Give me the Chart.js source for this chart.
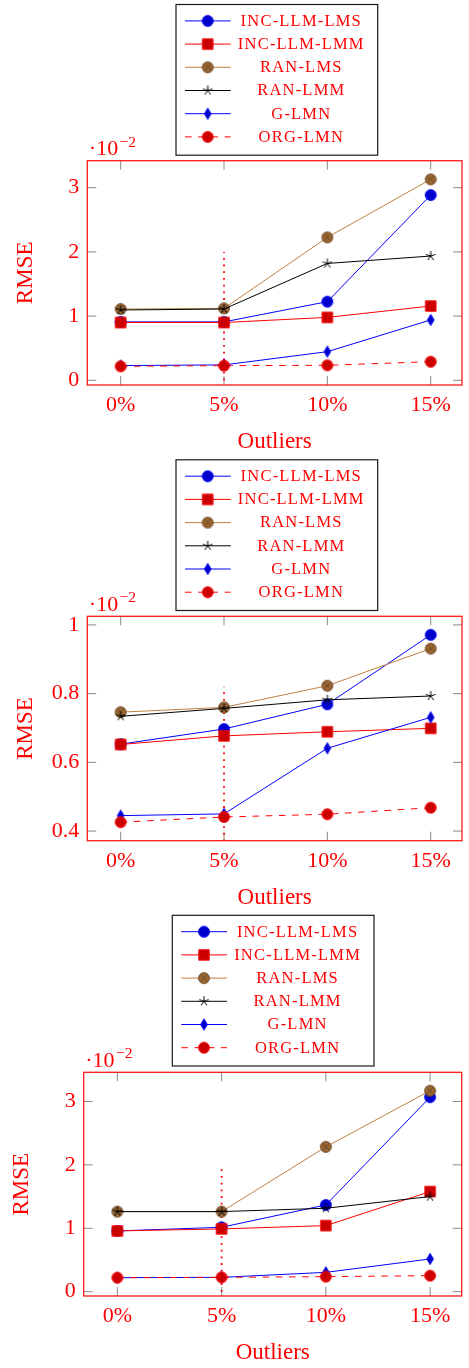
<!DOCTYPE html>
<html>
<head>
<meta charset="utf-8">
<script src="https://cdn.jsdelivr.net/npm/chart.js@4.4.1/dist/chart.umd.min.js"></script>
<style>
html, body { margin: 0; padding: 0; background: #fff; }
canvas { position: absolute; left: 0; }
</style>
</head>
<body>
<canvas id="c1" width="469" height="455" style="top:0"></canvas>
<canvas id="c2" width="469" height="455" style="top:455px"></canvas>
<canvas id="c3" width="469" height="458" style="top:910px"></canvas>
<script>
// categories / names
var categories = ['0%', '5%', '10%', '15%'];
var seriesNames = ['INC-LLM-LMS', 'INC-LLM-LMM', 'RAN-LMS', 'RAN-LMM', 'G-LMN', 'ORG-LMN'];

// chart 1 (values x 10^-2)
var incLms1 = [0.91, 0.91, 1.225, 2.885];
var incLmm1 = [0.90, 0.90, 0.98, 1.157];
var ranLms1 = [1.11, 1.12, 2.226, 3.13];
var ranLmm1 = [1.095, 1.11, 1.82, 1.935];
var gLmn1 = [0.23, 0.24, 0.446, 0.94];
var orgLmn1 = [0.218, 0.228, 0.234, 0.29];
var yTicks1 = [0, 1, 2, 3];
var mark1 = [0, 2];

// chart 2
var incLms2 = [0.653, 0.697, 0.769, 0.971];
var incLmm2 = [0.652, 0.677, 0.689, 0.699];
var ranLms2 = [0.746, 0.76, 0.823, 0.931];
var ranLmm2 = [0.734, 0.757, 0.782, 0.793];
var gLmn2 = [0.445, 0.45, 0.641, 0.731];
var orgLmn2 = [0.426, 0.441, 0.449, 0.468];
var yTicks2 = [0.4, 0.6, 0.8, 1];
var mark2 = [0.37, 0.82];

// chart 3
var incLms3 = [0.958, 1.016, 1.368, 3.068];
var incLmm3 = [0.958, 0.99, 1.042, 1.579];
var ranLms3 = [1.263, 1.263, 2.284, 3.17];
var ranLmm3 = [1.263, 1.263, 1.316, 1.5];
var gLmn3 = [0.221, 0.226, 0.305, 0.516];
var orgLmn3 = [0.221, 0.226, 0.237, 0.253];
var yTicks3 = [0, 1, 2, 3];
var mark3 = [0, 1.95];

var SERIF = '"Liberation Serif", "Times New Roman", serif';

// marker images (pgfplots look)
function markerImage(kind, fill, edge) {
    var c = document.createElement('canvas');
    c.width = 16; c.height = 16;
    var g = c.getContext('2d');
    g.translate(8, 8);
    g.fillStyle = fill; g.strokeStyle = edge; g.lineWidth = 0.8;
    g.beginPath();
    if (kind === 'circle') {
        g.arc(0, 0, 5.5, 0, 2 * Math.PI);
        g.fill(); g.stroke();
    } else if (kind === 'square') {
        g.rect(-5.3, -5.3, 10.6, 10.6);
        g.fill(); g.stroke();
    } else if (kind === 'diamond') {
        g.moveTo(0, -5.7); g.lineTo(3.4, 0); g.lineTo(0, 5.7); g.lineTo(-3.4, 0); g.closePath();
        g.fill(); g.stroke();
    } else if (kind === 'otimes') {
        g.arc(0, 0, 5.5, 0, 2 * Math.PI);
        g.fill(); g.stroke();
        g.beginPath();
        g.moveTo(-3.9, -3.9); g.lineTo(3.9, 3.9);
        g.moveTo(-3.9, 3.9); g.lineTo(3.9, -3.9);
        g.stroke();
    } else if (kind === 'star') {
        g.lineWidth = 1;
        for (var k = 0; k < 5; k++) {
            var ang = -Math.PI / 2 + k * 2 * Math.PI / 5;
            g.moveTo(0, 0); g.lineTo(5 * Math.cos(ang), 5 * Math.sin(ang));
        }
        g.stroke();
    }
    return c;
}

var styles = [
    { line: '#0000ff', img: markerImage('circle', '#0000cc', '#0000ff') },
    { line: '#ff0000', img: markerImage('square', '#cc0000', '#ff0000') },
    { line: 'rgb(191,128,64)', img: markerImage('otimes', 'rgb(153,102,51)', 'rgb(105,68,34)') },
    { line: '#000000', img: markerImage('star', '#000', '#000') },
    { line: '#0000ff', img: markerImage('diamond', '#0000cc', '#0000ff') },
    { line: '#ff0000', img: markerImage('circle', '#cc0000', '#ff0000'), dash: [6.6, 6.6] }
];

var framePlugin = {
    id: 'frame',
    beforeDatasetsDraw: function (chart) {
        var a = chart.chartArea, ctx = chart.ctx;
        var xs = chart.scales.x, ys = chart.scales.y, tl = 9;
        ctx.save();
        ctx.strokeStyle = '#8a8a8a';
        ctx.lineWidth = 1;
        ctx.beginPath();
        xs.ticks.forEach(function (t) {
            var px = xs.getPixelForValue(t.value);
            ctx.moveTo(px, a.top); ctx.lineTo(px, a.top + tl);
            ctx.moveTo(px, a.bottom); ctx.lineTo(px, a.bottom - tl);
        });
        ys.ticks.forEach(function (t) {
            var py = ys.getPixelForValue(t.value);
            ctx.moveTo(a.left, py); ctx.lineTo(a.left + tl, py);
            ctx.moveTo(a.right, py); ctx.lineTo(a.right - tl, py);
        });
        ctx.stroke();
        ctx.restore();
    },
    afterDraw: function (chart, args, opts) {
        var a = chart.chartArea, ctx = chart.ctx;
        ctx.save();
        // axis box
        ctx.strokeStyle = 'rgba(255,0,0,0.9)';
        ctx.lineWidth = 1.3;
        ctx.strokeRect(a.left, a.top, a.right - a.left, a.bottom - a.top);

        // exponent
        ctx.fillStyle = '#ff0000';
        ctx.textAlign = 'left';
        ctx.textBaseline = 'alphabetic';
        ctx.font = '22px ' + SERIF;
        var base = a.top - 5.7, x0 = a.left + 1.5;
        ctx.fillText('\u00b710', x0, base);
        var w = ctx.measureText('\u00b710').width;
        ctx.font = '15.5px ' + SERIF;
        ctx.fillText('\u22122', x0 + w + 1.5, base - 8.3);

        // legend
        var bx = 176 + opts.dx, by = 4.5 + opts.dy, bw = 201.7, bh = 150.7;
        ctx.fillStyle = '#fff';
        ctx.fillRect(bx, by, bw, bh);
        ctx.strokeStyle = '#1a1a1a';
        ctx.lineWidth = 1.2;
        ctx.strokeRect(bx, by, bw, bh);
        ctx.font = '16.5px ' + SERIF;
        ctx.textAlign = 'center';
        ctx.textBaseline = 'middle';
        for (var i = 0; i < seriesNames.length; i++) {
            var st = styles[i];
            var ry = by + 16.4 + i * 23.2;
            ctx.strokeStyle = st.line;
            ctx.lineWidth = 1;
            ctx.setLineDash(st.dash || []);
            ctx.beginPath();
            ctx.moveTo(bx + 9, ry); ctx.lineTo(bx + 54.7, ry);
            ctx.stroke();
            ctx.setLineDash([]);
            ctx.drawImage(st.img, bx + 31.7 - 8, ry - 8);
            ctx.fillStyle = '#ff0000';
            ctx.letterSpacing = '1.2px';
            ctx.fillText(seriesNames[i], bx + 124.7 + 0.6, ry + 0.5);
            ctx.letterSpacing = '0px';
        }
        ctx.restore();
    }
};

function makeChart(id, series, yTicks, yMin, yMax, mark, geo) {
    var canvas = document.getElementById(id);
    var H = canvas.height;
    var datasets = series.map(function (vals, i) {
        var st = styles[i];
        return {
            label: seriesNames[i],
            data: vals.map(function (v, k) { return { x: k, y: v }; }),
            borderColor: st.line,
            borderWidth: 1,
            borderDash: st.dash || [],
            pointStyle: st.img,
            pointRadius: 6,
            tension: 0,
            order: 6 - i
        };
    });
    // dotted vertical at 5%
    datasets.push({
        label: 'mark',
        data: [{ x: 1, y: mark[0] }, { x: 1, y: mark[1] }],
        borderColor: '#ff0000',
        borderWidth: 1.8,
        borderDash: [1.8, 4.9],
        pointRadius: 0,
        order: 10
    });

    return new Chart(canvas, {
        type: 'line',
        data: { datasets: datasets },
        plugins: [framePlugin],
        options: {
            responsive: false,
            animation: false,
            events: [],
            layout: { padding: { left: 0, top: geo.T, right: 469 - geo.R, bottom: 0 } },
            plugins: {
                legend: { display: false },
                tooltip: { enabled: false },
                frame: { dx: geo.dx, dy: geo.dy }
            },
            scales: {
                x: {
                    type: 'linear',
                    min: -0.323, max: 3.303,
                    grid: { display: false, drawTicks: false },
                    border: { display: false },
                    afterBuildTicks: function (axis) {
                        axis.ticks = categories.map(function (c, k) { return { value: k }; });
                    },
                    afterFit: function (axis) { axis.height = H - geo.B; },
                    ticks: {
                        autoSkip: false, maxRotation: 0, padding: 7,
                        color: '#ff0000',
                        font: { family: SERIF, size: 22 },
                        callback: function (v) { return categories[v]; }
                    },
                    title: {
                        display: true, text: 'Outliers', color: '#ff0000',
                        font: { family: SERIF, size: 23, lineHeight: 1 },
                        padding: { top: 0, bottom: geo.xtb }
                    }
                },
                y: {
                    type: 'linear',
                    min: yMin, max: yMax,
                    grid: { display: false, drawTicks: false },
                    border: { display: false },
                    afterBuildTicks: function (axis) {
                        axis.ticks = yTicks.map(function (v) { return { value: v }; });
                    },
                    afterFit: function (axis) { axis.width = geo.L; },
                    ticks: {
                        padding: 8,
                        color: '#ff0000',
                        font: { family: SERIF, size: 22 },
                        callback: function (v) { return String(v); }
                    },
                    title: {
                        display: true, text: 'RMSE', color: '#ff0000',
                        font: { family: SERIF, size: 23, lineHeight: 1 },
                        padding: { top: geo.ytx - 11.5, bottom: 0 }
                    }
                }
            }
        }
    });
}

makeChart('c1', [incLms1, incLmm1, ranLms1, ranLmm1, gLmn1, orgLmn1], yTicks1, -0.073, 3.42, mark1,
    { L: 87.3, R: 466, T: 160.7, B: 385, dx: 0, dy: 0, ytx: 26, xtb: 1.5 });
makeChart('c2', [incLms2, incLmm2, ranLms2, ranLmm2, gLmn2, orgLmn2], yTicks2, 0.372, 1.025, mark2,
    { L: 87.3, R: 466, T: 161.3, B: 385.7, dx: 0, dy: 0.3, ytx: 26, xtb: 0.5 });
makeChart('c3', [incLms3, incLmm3, ranLms3, ranLmm3, gLmn3, orgLmn3], yTicks3, -0.068, 3.46, mark3,
    { L: 83.7, R: 461.7, T: 162.3, B: 386, dx: -3.7, dy: 0.8, ytx: 22.4, xtb: 4 });
</script>
</body>
</html>
